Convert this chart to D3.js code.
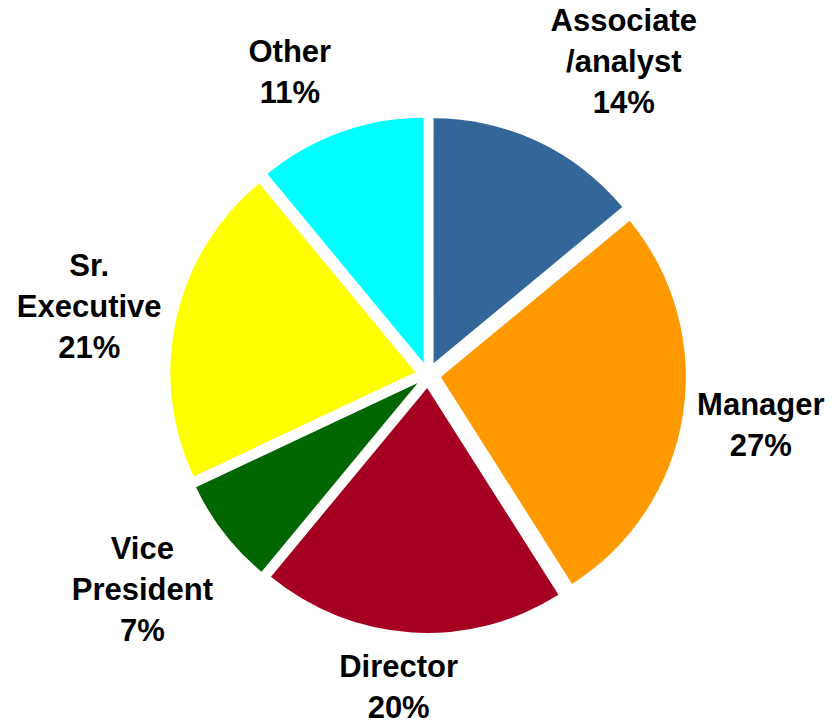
<!DOCTYPE html>
<html>
<head>
<meta charset="utf-8">
<script src="https://cdn.jsdelivr.net/npm/d3@7"></script>
<style>
  body { margin: 0; background: #fff; }
  svg { display: block; }
</style>
</head>
<body>
<svg></svg>
<script>
// chart data
var categories = [["Associate", "/analyst"], ["Manager"], ["Director"], ["Vice", "President"], ["Sr.", "Executive"], ["Other"]];
var values = [14, 27, 20, 7, 21, 11];
var colors = ["#336699", "#FF9900", "#A50021", "#006600", "#FFFF00", "#00FFFF"];

var width = 833, height = 725,
    cx = 428, cy = 375,
    radius = 245,
    explode = 13;

// label nudges from the centroid of the label ring
var labelRadius = 340;
var labelNudge = [[51, 5], [-3, 7], [-8, -17], [-17, 17], [-7, 16], [-23, 27]];
var lineHeight = 41;

var svg = d3.select("svg")
    .attr("width", width)
    .attr("height", height),
    g = svg.append("g").attr("transform", "translate(" + cx + "," + cy + ")");

var pie = d3.pie().sort(null).value(function(d) { return d; });
var arcs = pie(values);

var arc = d3.arc().innerRadius(0).outerRadius(radius);
var labelArc = d3.arc().innerRadius(labelRadius).outerRadius(labelRadius);

g.selectAll("path.slice")
    .data(arcs)
    .enter().append("path")
      .attr("class", "slice")
      .attr("transform", function(d) {
        var a = (d.startAngle + d.endAngle) / 2;
        return "translate(" + (Math.sin(a) * explode) + "," + (-Math.cos(a) * explode) + ")";
      })
      .attr("fill", function(d, i) { return colors[i]; })
      .attr("d", arc);

var labels = g.selectAll("text.label")
    .data(arcs)
    .enter().append("text")
      .attr("class", "label")
      .attr("font-family", "Liberation Sans, Arial, sans-serif")
      .attr("font-weight", "bold")
      .attr("font-size", 31)
      .attr("fill", "#000")
      .attr("text-anchor", "middle")
      .attr("transform", function(d, i) {
        var c = labelArc.centroid(d);
        return "translate(" + (c[0] + labelNudge[i][0]) + "," + (c[1] + labelNudge[i][1]) + ")";
      });

labels.each(function(d, i) {
  var lines = categories[i].concat([values[i] + "%"]);
  var n = lines.length;
  d3.select(this).selectAll("tspan")
    .data(lines)
    .enter().append("tspan")
      .attr("x", 0)
      .attr("y", function(l, j) { return (j - (n - 1) / 2) * lineHeight; })
      .text(function(l) { return l; });
});
</script>
</body>
</html>
